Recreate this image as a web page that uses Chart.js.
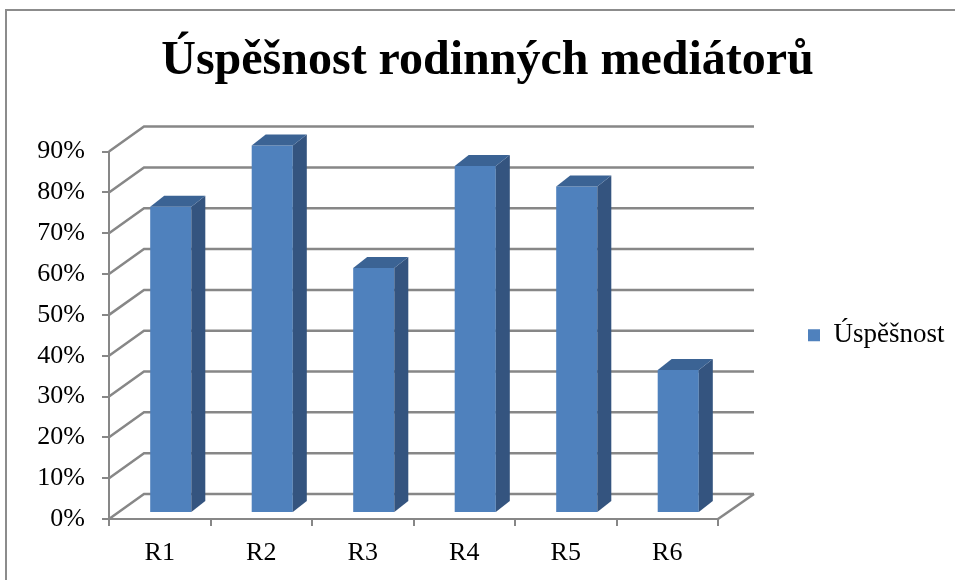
<!DOCTYPE html>
<html>
<head>
<meta charset="utf-8">
<script src="https://cdn.jsdelivr.net/npm/chart.js@4/dist/chart.umd.min.js"></script>
<style>
  html, body { margin: 0; padding: 0; background: #ffffff; }
  #wrap { width: 955px; height: 580px; }
</style>
</head>
<body>
<div id="wrap"><canvas id="c" width="955" height="580"></canvas></div>
<script>
const categories = ['R1', 'R2', 'R3', 'R4', 'R5', 'R6'];
const successValues = [75, 90, 60, 85, 80, 35];
const seriesName = 'Úspěšnost';
const chartTitle = 'Úspěšnost rodinných mediátorů';
const yMin = 0;
const yMax = 90;
const yStep = 10;

const FONT = "'Liberation Serif', 'Times New Roman', serif";
const GRID_COLOR = '#878787';
const BAR_FRONT = '#4F81BD';
const BAR_SIDE = '#34547F';
const BAR_TOP = '#3B6394';

const depth = { backX: 35, backY: 25, barX: 11, barY: 6, sideX: 14, sideY: 11 };

const threeD = {
  id: 'threeD',
  beforeDraw(chart) {
    const ctx = chart.ctx;
    ctx.save();
    ctx.fillStyle = '#ffffff';
    ctx.fillRect(0, 0, chart.width, chart.height);
    ctx.strokeStyle = '#8c8c8c';
    ctx.lineWidth = 2;
    ctx.strokeRect(6, 10, chart.width + 20, chart.height + 20);
    ctx.restore();
  },
  beforeDatasetsDraw(chart) {
    const ctx = chart.ctx;
    const ys = chart.scales.y;
    const area = chart.chartArea;
    ctx.save();
    ctx.strokeStyle = GRID_COLOR;
    ctx.lineWidth = 2.5;
    ctx.lineJoin = 'miter';
    ys.ticks.forEach(t => {
      const yF = ys.getPixelForValue(t.value);
      ctx.beginPath();
      ctx.moveTo(area.left, yF);
      ctx.lineTo(area.left + depth.backX, yF - depth.backY);
      ctx.lineTo(area.right + depth.backX + 1, yF - depth.backY);
      ctx.stroke();
    });
    const y0 = ys.getPixelForValue(yMin);
    ctx.beginPath();
    ctx.moveTo(area.right, y0);
    ctx.lineTo(area.right + depth.backX + 1, y0 - depth.backY);
    ctx.stroke();
    ctx.restore();
    ctx.save();
    ctx.translate(depth.barX, -depth.barY);
  },
  afterDatasetsDraw(chart) {
    const ctx = chart.ctx;
    ctx.restore();
    const meta = chart.getDatasetMeta(0);
    ctx.save();
    meta.data.forEach(el => {
      const p = el.getProps(['x', 'y', 'base', 'width'], true);
      const l = p.x - p.width / 2 + depth.barX;
      const r = p.x + p.width / 2 + depth.barX;
      const top = p.y - depth.barY;
      const bot = p.base - depth.barY;
      ctx.fillStyle = BAR_SIDE;
      ctx.beginPath();
      ctx.moveTo(r, top);
      ctx.lineTo(r + depth.sideX, top - depth.sideY);
      ctx.lineTo(r + depth.sideX, bot - depth.sideY);
      ctx.lineTo(r, bot);
      ctx.closePath();
      ctx.fill();
      ctx.fillStyle = BAR_TOP;
      ctx.beginPath();
      ctx.moveTo(l, top);
      ctx.lineTo(r, top);
      ctx.lineTo(r + depth.sideX, top - depth.sideY);
      ctx.lineTo(l + depth.sideX, top - depth.sideY);
      ctx.closePath();
      ctx.fill();
    });
    ctx.restore();
  }
};

new Chart(document.getElementById('c'), {
  type: 'bar',
  data: {
    labels: categories,
    datasets: [{
      label: seriesName,
      data: successValues,
      backgroundColor: BAR_FRONT,
      borderWidth: 0,
      categoryPercentage: 1,
      barPercentage: 0.405,
      clip: false
    }]
  },
  options: {
    responsive: false,
    animation: false,
    devicePixelRatio: 1,
    layout: { padding: { left: 28, right: 8, top: 10, bottom: 10 } },
    plugins: {
      title: {
        display: true,
        text: chartTitle,
        color: '#000000',
        font: { family: FONT, size: 48, weight: 'bold' },
        padding: { top: 23, bottom: 61 }
      },
      legend: {
        position: 'right',
        fullSize: false,
        maxWidth: 159,
        labels: {
          color: '#000000',
          font: { family: FONT, size: 27 },
          boxWidth: 12,
          boxHeight: 12,
          padding: 20
        }
      },
      tooltip: { enabled: false }
    },
    scales: {
      x: {
        grid: { display: true, drawOnChartArea: false, drawTicks: true, tickLength: 7, color: GRID_COLOR, lineWidth: 2, offset: true },
        border: { display: true, color: GRID_COLOR, width: 2 },
        ticks: { color: '#000000', font: { family: FONT, size: 26 }, padding: 12, maxRotation: 0 },
        afterFit(s) { s.height = 51; }
      },
      y: {
        min: yMin,
        max: yMax,
        grid: { display: true, drawOnChartArea: false, drawTicks: true, tickLength: 7, color: GRID_COLOR, lineWidth: 2 },
        border: { display: true, color: GRID_COLOR, width: 2 },
        ticks: { stepSize: yStep, color: '#000000', font: { family: FONT, size: 26 }, padding: 17, callback: v => v + '%' },
        afterFit(s) { s.width = 81; }
      },
      y2: {
        position: 'right',
        display: true,
        grid: { display: false },
        border: { display: false },
        ticks: { display: false },
        afterFit(s) { s.width = 70; }
      }
    }
  },
  plugins: [threeD]
});
</script>
</body>
</html>
